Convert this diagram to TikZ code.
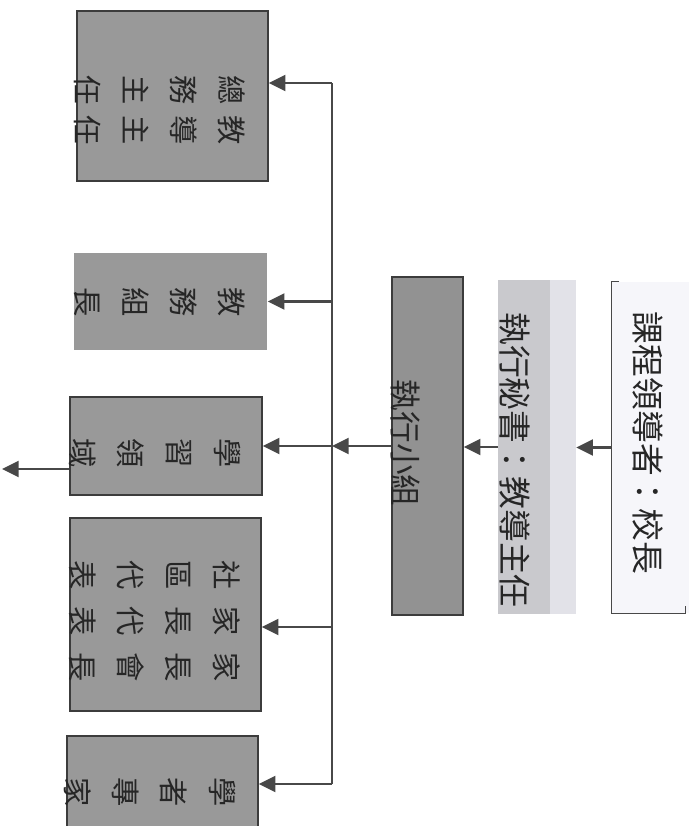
\documentclass[tikz,border=0pt]{standalone}
\usepackage{fontspec}
\setmainfont{Noto Sans CJK TC}
\usepackage{tikz}
\usetikzlibrary{
  calc,
  positioning,
  arrows.meta,
  fit
}
\definecolor{boxgray}{RGB}{153,153,153}
\definecolor{groupgray}{RGB}{146,146,146}
\definecolor{edgegray}{RGB}{60,60,60}
\definecolor{linegray}{RGB}{72,72,72}
\definecolor{inkgray}{RGB}{38,38,38}
\definecolor{secdark}{RGB}{201,201,205}
\definecolor{seclight}{RGB}{226,226,232}
\definecolor{leadfill}{RGB}{246,246,250}
\tikzset{>={Triangle[length=5mm,width=4.8mm]}}
\newcommand{\ngap}{\hspace{9pt}}
\newcommand{\wgap}{\hspace{14pt}}

\begin{document}
\begin{tikzpicture}[x=0.3mm, y=-0.3mm,
    gbox/.style = {rectangle, fill=boxgray, draw=edgegray, line width=1.2pt, inner sep=0pt},
    vtext/.style = {rotate=-90, align=center, text=inkgray, inner sep=0pt, font=\fontsize{25pt}{41pt}\selectfont},
    bigtext/.style = {vtext, font=\fontsize{28pt}{34pt}\selectfont},
    secbox/.style = {rectangle, fill=seclight, inner sep=0pt,
      path picture={\fill[secdark] (path picture bounding box.north west) rectangle ([xshift=-7.8mm]path picture bounding box.south east);}},
    conn/.style = {draw=linegray, line width=1.8pt},
    bus/.style = {draw=linegray, line width=1.2pt}]
          \useasboundingbox (0,0) rectangle (695,826);
          % nodes
          \node[gbox, fit={(77,11) (268,181)}] (zongwu) {};
          \node[vtext] at (160,110) {總\ngap 教\\務\ngap 導\\主\ngap 主\\任\ngap 任};
          \node[gbox, draw=none, fit={(74,253) (267,350)}] (jiaowu) {};
          \node[vtext] at (160,302) {教\\務\\組\\長};
          \node[gbox, fit={(70,397) (262,495)}] (xuexi) {};
          \node[vtext] at (155,453) {學\\習\\領\\域};
          \node[gbox, fit={(70,518) (261,711)}] (jiazhang) {};
          \node[vtext] at (155,621) {社\wgap 家\wgap 家\\區\wgap 長\wgap 長\\代\wgap 代\wgap 會\\表\wgap 表\wgap 長};
          \node[gbox, fit={(67,736) (258,840)}] (xuezhe) {};
          \node[vtext] at (150,792) {學\\者\\專\\家};

          \node[gbox, fill=groupgray, fit={(392,277) (463,615)}] (xiaozu) {};
          \node[bigtext, font=\fontsize{27pt}{34pt}\selectfont] at (405,443) {執行小組};
          \node[secbox, fit={(498,280) (576,614)}] (mishu) {};
          \node[bigtext] at (515,460) {執行秘書：教導主任};
          \node[fill=leadfill, inner sep=0pt, fit={(612,282) (689,613)}] (lingdao) {};
          \node[bigtext] at (648,443) {課程領導者：校長};
                \draw[bus] ([xshift=2.2mm]lingdao.north west) -- (lingdao.north west) -- (lingdao.south west) -- ([xshift=-1.2mm]lingdao.south east) -- ([xshift=-1.2mm, yshift=2.2mm]lingdao.south east);

          % connections
          \coordinate (bustop) at (332,83);
          \coordinate (busbot) at (332,784);
          \coordinate (busjz) at (332,627);
          \coordinate (exit) at (2,469);
          \draw[bus] (bustop) -- (busbot);
          \draw[conn, ->] (bustop) -- (bustop -| zongwu.east);
          \draw[conn, ->] (jiaowu.east -| bustop) -- (jiaowu.east);
          \draw[conn, ->] (xuexi.east -| bustop) -- (xuexi.east);
          \draw[conn, ->] (busjz) -- (busjz -| jiazhang.east);
          \draw[conn, ->] (busbot) -- (busbot -| xuezhe.east);
          \draw[conn, ->] (xiaozu.west) -- (xiaozu.west -| bustop);
          \draw[conn, ->] (mishu.west) -- (mishu.west -| xiaozu.east);
          \draw[conn, ->] (lingdao.west) -- (lingdao.west -| mishu.east);
          \draw[conn, ->] (exit -| xuexi.west) -- (exit);
        \end{tikzpicture}
\end{document}
